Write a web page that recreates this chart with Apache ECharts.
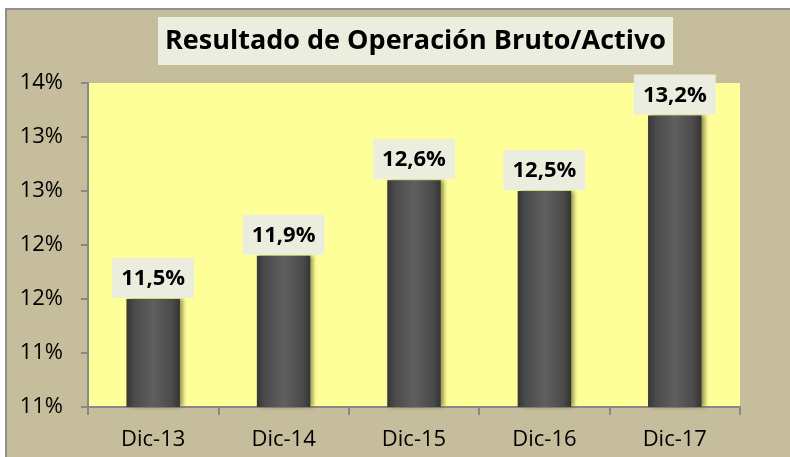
<!DOCTYPE html>
<html>
<head>
<meta charset="utf-8">
<script src="https://cdn.jsdelivr.net/npm/echarts@6/dist/echarts.min.js"></script>
<style>
  html, body { margin: 0; padding: 0; background: #ffffff; }
  #chart { width: 790px; height: 457px; }
</style>
</head>
<body>
<div id="chart"></div>
<script>
const categories = ["Dic-13", "Dic-14", "Dic-15", "Dic-16", "Dic-17"]
const ratioValues = [11.5, 11.9, 12.6, 12.5, 13.2]
const titleText = "Resultado de Operación Bruto/Activo"

const chart = echarts.init(document.getElementById("chart"))

const barColor = new echarts.graphic.LinearGradient(0, 0, 1, 0, [
  { offset: 0, color: "#363636" },
  { offset: 0.15, color: "#4b4b4b" },
  { offset: 0.5, color: "#5f5f5f" },
  { offset: 0.85, color: "#4b4b4b" },
  { offset: 1, color: "#343434" },
])

const options = {
  animation: false,
  backgroundColor: "#ffffff",
  textStyle: { fontFamily: "Open Sans" },
  graphic: [
    {
      type: "rect",
      z: -10,
      shape: { x: 6, y: 9, width: 800, height: 460 },
      style: { fill: "#C5BD9B", stroke: "#8f8f8f", lineWidth: 2 },
    },
  ],
  title: {
    text: titleText,
    left: 158,
    top: 17,
    padding: [8, 7, 8, 7],
    backgroundColor: "#EBEEDF",
    textStyle: {
      fontFamily: "Open Sans",
      fontSize: 27,
      fontWeight: "bold",
      color: "#000000",
      lineHeight: 32,
    },
  },
  grid: {
    left: 88,
    right: 50,
    top: 83,
    bottom: 50,
    show: true,
    backgroundColor: "#FFFF99",
    borderWidth: 0,
  },
  xAxis: {
    type: "category",
    data: categories,
    axisLine: { lineStyle: { color: "#888888", width: 2 } },
    axisTick: { show: true, length: 8, lineStyle: { color: "#888888", width: 2 } },
    axisLabel: { color: "#000000", fontSize: 22, margin: 22 },
  },
  yAxis: {
    type: "value",
    min: 10.5,
    max: 13.5,
    interval: 0.5,
    axisLine: { show: true, lineStyle: { color: "#888888", width: 2 } },
    axisTick: { show: true, length: 7, lineStyle: { color: "#888888", width: 2 } },
    splitLine: { show: false },
    axisLabel: {
      color: "#000000",
      fontSize: 22,
      margin: 25,
      formatter: (v) => Math.round(v) + "%",
    },
  },
  series: [
    {
      type: "bar",
      data: ratioValues,
      barWidth: "41%",
      itemStyle: {
        color: barColor,
        borderColor: "#8a8a8a",
        borderWidth: 0,
        shadowColor: "rgba(110,110,50,0.7)",
        shadowBlur: 4,
        shadowOffsetX: 3,
      },
      label: {
        show: true,
        position: "top",
        distance: 1,
        formatter: (p) => p.value.toFixed(1).replace(".", ",") + "%",
        fontFamily: "Open Sans",
        fontSize: 22,
        fontWeight: "bold",
        color: "#000000",
        lineHeight: 26,
        backgroundColor: "#EBEEDF",
        padding: [8, 9, 6, 9],
      },
    },
  ],
}

chart.setOption(options)
</script>
</body>
</html>
